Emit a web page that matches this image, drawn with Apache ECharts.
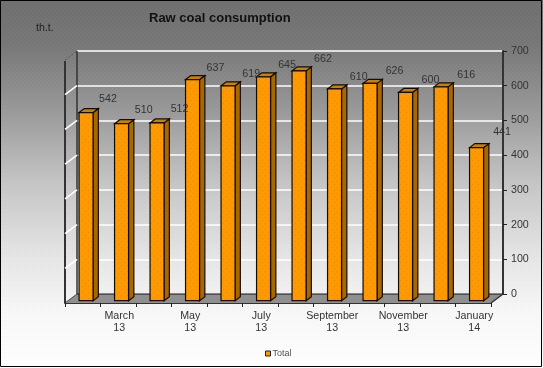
<!DOCTYPE html>
<html><head><meta charset="utf-8">
<style>html,body{margin:0;padding:0;background:#fff}#c{width:543px;height:368px}</style>
<script src="https://cdn.jsdelivr.net/npm/echarts@6/dist/echarts.min.js"></script>
</head><body><div id="c"></div>
<script>
const categories = ['February\n13','March\n13','April\n13','May\n13','June\n13','July\n13','August\n13','September\n13','October\n13','November\n13','December\n13','January\n14'];
const totals = [542,510,512,637,619,645,662,610,626,600,616,441];
const valueTicks = [100,200,300,400,500,600,700];
const FONT = '"Liberation Sans", Arial, sans-serif';

const DX = 12, DY = 9;          // depth of the 3D floor
const BX = 3.3, BY = 2.3;       // bar inset from front plane
const BW = 14, BDX = 5.3, BDY = 4; // bar width and depth

function ditherPattern(alpha) {
  const c = document.createElement('canvas'); c.width = c.height = 4;
  const g = c.getContext('2d');
  g.fillStyle = 'rgba(255,255,255,' + alpha + ')';
  g.fillRect(0,0,1,1); g.fillRect(2,2,1,1);
  g.fillStyle = 'rgba(0,0,0,' + alpha*0.6 + ')';
  g.fillRect(2,0,1,1); g.fillRect(0,2,1,1);
  return c;
}
function barPattern() {
  const c = document.createElement('canvas'); c.width = c.height = 6;
  const g = c.getContext('2d');
  g.fillStyle = '#ff9900'; g.fillRect(0,0,6,6);
  g.fillStyle = '#e88a10'; g.fillRect(1,1,1,1); g.fillRect(4,4,1,1);
  return c;
}
const orangeFill = {image: barPattern(), repeat: 'repeat'};

function renderFrame(params, api) {
  const r = params.coordSys;
  const L = r.x, R = r.x + r.width, T = r.y, B = r.y + r.height;
  return {type:'group', silent:true, children:[
    {type:'polygon', shape:{points:[[L,B],[R,B],[R+DX,B-DY],[L+DX,B-DY]]}, style:{fill:'#8f8f8f', stroke:null}},
    {type:'line', shape:{x1:L+DX,y1:B-DY,x2:R+DX,y2:B-DY}, style:{stroke:'#111',lineWidth:1}},
    {type:'line', shape:{x1:L,y1:B,x2:L+DX,y2:B-DY}, style:{stroke:'#444',lineWidth:1}},
    {type:'line', shape:{x1:R,y1:B,x2:R+DX,y2:B-DY}, style:{stroke:'#333',lineWidth:1.5}},
    {type:'line', shape:{x1:L,y1:T+1,x2:L,y2:B}, style:{stroke:'#333',lineWidth:2}},
    {type:'line', shape:{x1:L+DX,y1:T-DY,x2:L+DX,y2:B-DY}, style:{stroke:'#333',lineWidth:1.5}}
  ]};
}
function renderWallLine(params, api) {
  const v = api.value(0);
  const r = params.coordSys;
  const y = api.coord([0, v])[1];
  const top = v === 700;
  return {type:'line', silent:true, shape:{x1:r.x,y1:y,x2:r.x+DX,y2:y-DY},
    style:{stroke: top ? '#555' : '#fff', lineWidth: top ? 1 : 1.6, lineDash: top ? [2,2] : null}};
}
function renderBar(params, api) {
  const p = api.coord([api.value(0), api.value(1)]);
  const b = api.coord([api.value(0), 0]);
  const x0 = p[0] + BX - BW/2, x1 = x0 + BW;
  const yT = p[1] - BY, yB = b[1] - BY;
  const edge = {stroke:'#140c00', lineWidth:1.2};
  return {type:'group', children:[
    {type:'polygon', shape:{points:[[x1,yT],[x1+BDX,yT-BDY],[x1+BDX,yB-BDY],[x1,yB]]}, style:Object.assign({fill:'#a86800'},edge)},
    {type:'polygon', shape:{points:[[x0,yT],[x0+BDX,yT-BDY],[x1+BDX,yT-BDY],[x1,yT]]}, style:Object.assign({fill:'#cc7f08'},edge)},
    {type:'rect', shape:{x:x0,y:yT,width:BW,height:yB-yT}, style:Object.assign({fill:orangeFill},edge)}
  ]};
}
function renderLabel(params, api) {
  const p = api.coord([api.value(0), api.value(1)]);
  return {type:'text', silent:true, x:p[0], y:p[1],
    style:{text:String(api.value(1)), font:'10.67px '+FONT, fill:'#333', align:'center', verticalAlign:'middle'}};
}

const chart = echarts.init(document.getElementById('c'), null, {renderer:'canvas'});
chart.setOption({
  animation:false,
  backgroundColor:{type:'linear',x:0,y:0,x2:0,y2:1,colorStops:[
    {offset:0,color:'#6f6f6f'},{offset:0.12,color:'#777'},{offset:0.3,color:'#999'},
    {offset:0.5,color:'#c6c6c6'},{offset:0.7,color:'#e6e6e6'},{offset:0.85,color:'#f8f8f8'},{offset:1,color:'#fff'}]},
  title:[
    {text:'Raw coal consumption', left:149, top:12, padding:0, textStyle:{fontFamily:FONT,fontSize:13,fontWeight:'bold',color:'#111'}},
    {text:'th.t.', left:36, top:23, padding:0, textStyle:{fontFamily:FONT,fontSize:10.67,fontWeight:'normal',color:'#222'}}
  ],
  legend:{data:['Total'], left:265, top:349, padding:0, itemWidth:5, itemHeight:5, itemGap:2, icon:'rect', selectedMode:false,
    itemStyle:{color:'#ff9900',borderColor:'#222',borderWidth:1},
    textStyle:{fontFamily:FONT,fontSize:9,color:'#555',padding:[0,0,0,-3]}},
  grid:[
    {left:65, top:60, width:426, height:243},
    {left:77, top:51, width:426, height:243},
    {left:90, top:47, width:430, height:231}
  ],
  xAxis:[
    {type:'category', gridIndex:0, data:categories, position:'bottom',
     axisLine:{show:true,lineStyle:{color:'#333',width:2}},
     axisTick:{show:true,interval:0,length:4,lineStyle:{color:'#222'}},
     axisLabel:{interval:(i)=>i%2===1, margin:7, padding:[0,0,0,2], fontFamily:FONT, fontSize:10.67, color:'#333', lineHeight:12, hideOverlap:false},
     splitLine:{show:false}},
    {type:'category', gridIndex:1, data:categories, show:false},
    {type:'category', gridIndex:2, data:categories, show:false}
  ],
  yAxis:[
    {type:'value', gridIndex:0, min:0, max:700, interval:100, show:false},
    {type:'value', gridIndex:1, min:0, max:700, interval:100, position:'right',
     axisLine:{show:true,lineStyle:{color:'#333',width:2}},
     axisTick:{show:true,length:4,lineStyle:{color:'#222'}},
     axisLabel:{margin:8, align:'left', fontFamily:FONT, fontSize:10.67, color:'#333'},
     splitLine:{show:true,lineStyle:{color:'#fff',width:1.6}}},
    {type:'value', gridIndex:2, min:0, max:700, interval:100, show:false}
  ],
  series:[
    {type:'custom', xAxisIndex:0, yAxisIndex:0, data:[0], renderItem:renderFrame, z:1, silent:true, tooltip:{show:false}},
    {type:'custom', xAxisIndex:0, yAxisIndex:0, data:valueTicks.map(v=>[v]), encode:{y:0}, renderItem:renderWallLine, z:1, silent:true},
    {name:'Total', type:'custom', xAxisIndex:0, yAxisIndex:0, itemStyle:{color:'#ff9900'}, data:totals.map((v,i)=>[i,v]), encode:{x:0,y:1}, renderItem:renderBar, z:3},
    {type:'custom', xAxisIndex:2, yAxisIndex:2, data:totals.map((v,i)=>[i,v]), encode:{x:0,y:1}, renderItem:renderLabel, z:5, silent:true}
  ],
  graphic:[
    {type:'rect', z:-1, silent:true, shape:{x:0,y:0,width:543,height:368}, style:{fill:{image:ditherPattern(0.05),repeat:'repeat'}}},
    {type:'rect', z:100, silent:true, shape:{x:0.5,y:0.5,width:541,height:366}, style:{fill:null,stroke:'#000',lineWidth:1}}
  ]
});
</script></body></html>
